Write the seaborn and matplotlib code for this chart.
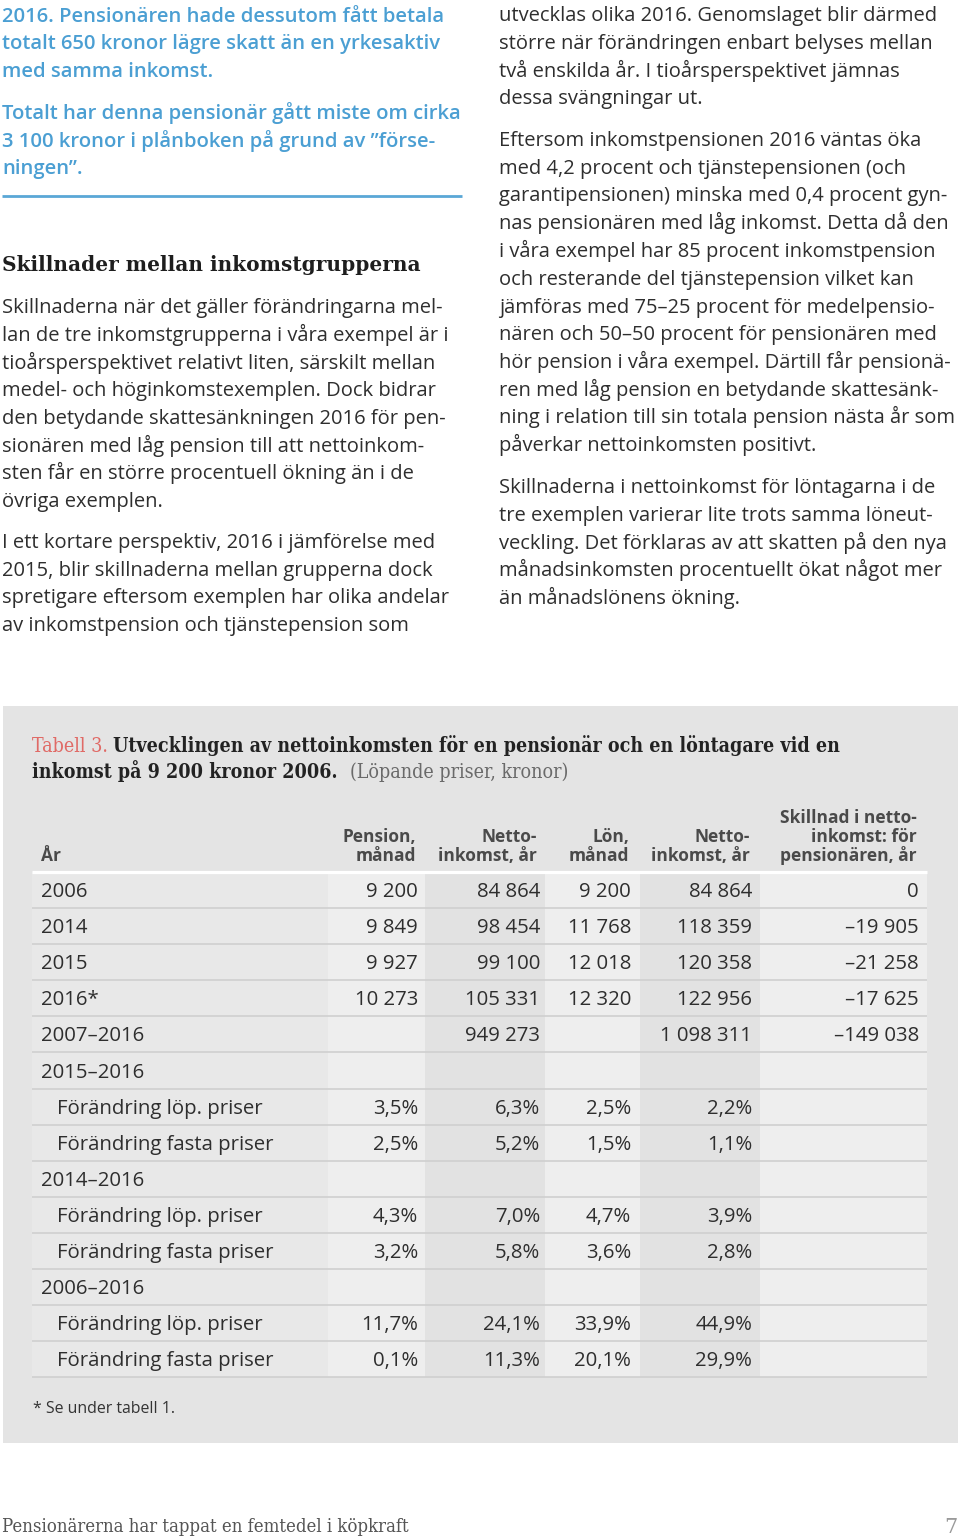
import numpy as np
import matplotlib
matplotlib.use("Agg")
import matplotlib.pyplot as plt
from matplotlib.colors import ListedColormap
from matplotlib.patches import Rectangle
import seaborn as sns

# ---------------- data ----------------
blue_lines = [
    "2016. Pensionären hade dessutom fått betala",
    "totalt 650 kronor lägre skatt än en yrkesaktiv",
    "med samma inkomst.",
    "Totalt har denna pensionär gått miste om cirka",
    "3 100 kronor i plånboken på grund av ”förse-",
    "ningen”.",
]
heading = "Skillnader mellan inkomstgrupperna"
left_par1 = [
    "Skillnaderna när det gäller förändringarna mel-",
    "lan de tre inkomstgrupperna i våra exempel är i",
    "tioårsperspektivet relativt liten, särskilt mellan",
    "medel- och höginkomstexemplen. Dock bidrar",
    "den betydande skattesänkningen 2016 för pen-",
    "sionären med låg pension till att nettoinkom-",
    "sten får en större procentuell ökning än i de",
    "övriga exemplen.",
]
left_par2 = [
    "I ett kortare perspektiv, 2016 i jämförelse med",
    "2015, blir skillnaderna mellan grupperna dock",
    "spretigare eftersom exemplen har olika andelar",
    "av inkomstpension och tjänstepension som",
]
right_par1 = [
    "utvecklas olika 2016. Genomslaget blir därmed",
    "större när förändringen enbart belyses mellan",
    "två enskilda år. I tioårsperspektivet jämnas",
    "dessa svängningar ut.",
]
right_par2 = [
    "Eftersom inkomstpensionen 2016 väntas öka",
    "med 4,2 procent och tjänstepensionen (och",
    "garantipensionen) minska med 0,4 procent gyn-",
    "nas pensionären med låg inkomst. Detta då den",
    "i våra exempel har 85 procent inkomstpension",
    "och resterande del tjänstepension vilket kan",
    "jämföras med 75–25 procent för medelpensio-",
    "nären och 50–50 procent för pensionären med",
    "hör pension i våra exempel. Därtill får pensionä-",
    "ren med låg pension en betydande skattesänk-",
    "ning i relation till sin totala pension nästa år som",
    "påverkar nettoinkomsten positivt.",
]
right_par3 = [
    "Skillnaderna i nettoinkomst för löntagarna i de",
    "tre exemplen varierar lite trots samma löneut-",
    "veckling. Det förklaras av att skatten på den nya",
    "månadsinkomsten procentuellt ökat något mer",
    "än månadslönens ökning.",
]

table_label = "Tabell 3."
table_title_1 = "Utvecklingen av nettoinkomsten för en pensionär och en löntagare vid en"
table_title_2 = "inkomst på 9 200 kronor 2006."
table_unit = "(Löpande priser, kronor)"

col_headers = [
    ["Pension,", "månad"],
    ["Netto-", "inkomst, år"],
    ["Lön,", "månad"],
    ["Netto-", "inkomst, år"],
    ["Skillnad i netto-", "inkomst: för", "pensionären, år"],
]
first_header = "År"

years = ["2006", "2014", "2015", "2016*", "2007–2016"]
pension_manad = [9200, 9849, 9927, 10273, None]
netto_pension = [84864, 98454, 99100, 105331, 949273]
lon_manad = [9200, 11768, 12018, 12320, None]
netto_lon = [84864, 118359, 120358, 122956, 1098311]
skillnad = [0, -19905, -21258, -17625, -149038]

periods = ["2015–2016", "2014–2016", "2006–2016"]
change_types = ["Förändring löp. priser", "Förändring fasta priser"]
pension_chg = [[3.5, 2.5], [4.3, 3.2], [11.7, 0.1]]
netto_pension_chg = [[6.3, 5.2], [7.0, 5.8], [24.1, 11.3]]
lon_chg = [[2.5, 1.5], [4.7, 3.6], [33.9, 20.1]]
netto_lon_chg = [[2.2, 1.1], [3.9, 2.8], [44.9, 29.9]]

footnote = "* Se under tabell 1."
footer = "Pensionärerna har tappat en femtedel i köpkraft"
page_no = "7"

# ---------------- helpers ----------------
def fmt_int(v):
    if v is None:
        return ""
    s = f"{abs(v):,}".replace(",", " ")
    return ("–" + s) if v < 0 else s

def fmt_pct(v):
    if v is None:
        return ""
    return f"{v:.1f}".replace(".", ",") + "%"

rows = []
for i, y in enumerate(years):
    rows.append((y, False, [fmt_int(pension_manad[i]), fmt_int(netto_pension[i]),
                            fmt_int(lon_manad[i]), fmt_int(netto_lon[i]), fmt_int(skillnad[i])]))
for p, per in enumerate(periods):
    rows.append((per, False, ["", "", "", "", ""]))
    for k, ct in enumerate(change_types):
        rows.append((ct, True, [fmt_pct(pension_chg[p][k]), fmt_pct(netto_pension_chg[p][k]),
                                fmt_pct(lon_chg[p][k]), fmt_pct(netto_lon_chg[p][k]), ""]))

# ---------------- figure ----------------
sns.set_theme(style="white")
plt.rcParams['font.family'] = ['Open Sans', 'DejaVu Sans']

W, H = 960, 1538
fig = plt.figure(figsize=(W / 100, H / 100), dpi=100)
fig.patch.set_facecolor("white")
renderer = fig.canvas.get_renderer()

def px_axes(x0, y0, x1, y1):
    return fig.add_axes([x0 / W, 1 - y1 / H, (x1 - x0) / W, (y1 - y0) / H])

bg = px_axes(0, 0, W, H)
bg.set_xlim(0, W); bg.set_ylim(H, 0); bg.axis("off")
bg.add_patch(Rectangle((3, 706), 955, 737, color="#e4e4e4", lw=0))

# table column shading with seaborn heatmap
TX0, TX1, TY0, TY1 = 32, 927, 872, 1377
band_px = [296, 97, 120, 95, 120, 167]
band_shade = [0, 1, 2, 1, 2, 1]
shade_arr = np.repeat(band_shade, band_px)[None, :]
hm = px_axes(TX0, TY0, TX1, TY1)
sns.heatmap(shade_arr, ax=hm, cmap=ListedColormap(["#e8e8e8", "#eeeeee", "#e2e2e2"]),
            vmin=0, vmax=2, cbar=False, xticklabels=False, yticklabels=False)
hm.axis("off")

ov = px_axes(0, 0, W, H)
ov.set_xlim(0, W); ov.set_ylim(H, 0); ov.axis("off")
ov.patch.set_alpha(0)

def width_px(s, size, **kw):
    t = ov.text(0, 0, s, fontsize=size, **kw)
    w = t.get_window_extent(renderer).width
    t.remove()
    return w

def fit(s, target, **kw):
    return 10 * target / width_px(s, 10, **kw)

def T(x, y, s, size, **kw):
    return ov.text(x, y, s, fontsize=size, va="baseline", **kw)

# ---- left column ----
BLUE = "#4b9fd3"
TXT = "#2e2e2e"
blue_kw = dict(family=["Open Sans", "DejaVu Sans"], weight="semibold")
bsize = min(fit(blue_lines[0], 445, **blue_kw), fit(blue_lines[3], 460, **blue_kw))
for y, s in zip([22, 49, 77, 119, 147, 174], blue_lines):
    T(2, y, s, bsize, color=BLUE, **blue_kw)
ov.plot([2, 462], [196, 196], color="#5aa7d6", lw=2.0, solid_capstyle="butt")

head_kw = dict(family=["DejaVu Serif"], weight="bold")
hsize = fit(heading, 420, **head_kw)
T(2, 271, heading, hsize, color="#1e1e1e", **head_kw)

body_kw = dict(family=["Open Sans", "DejaVu Sans"])
size_body = min(fit(left_par1[2], 444, **body_kw),
                fit(right_par2[10], 455, **body_kw),
                fit(right_par2[8], 453, **body_kw),
                fit(right_par2[3], 451, **body_kw))
LS = 27.75
for i, s in enumerate(left_par1):
    T(2, 313 + i * LS, s, size_body, color=TXT, **body_kw)
for i, s in enumerate(left_par2):
    T(2, 548 + i * LS, s, size_body, color=TXT, **body_kw)

# ---- right column ----
for i, s in enumerate(right_par1):
    T(499, 21 + i * LS, s, size_body, color=TXT, **body_kw)
for i, s in enumerate(right_par2):
    T(499, 146 + i * LS, s, size_body, color=TXT, **body_kw)
for i, s in enumerate(right_par3):
    T(499, 493 + i * LS, s, size_body, color=TXT, **body_kw)

# ---- table title ----
tt_kw = dict(family=["DejaVu Serif"], stretch="condensed")
w_lab = width_px(table_label + " ", 10, **tt_kw)
w_rest = width_px(table_title_1, 10, weight="bold", **tt_kw)
tsize = 10 * (841 - 32) / (w_lab + w_rest)
T(32, 752, table_label, tsize, color="#e06a66", **tt_kw)
x2 = 32 + w_lab * tsize / 10
T(x2, 752, table_title_1, tsize, color="#222222", weight="bold", **tt_kw)
T(32, 778, table_title_2, tsize, color="#222222", weight="bold", **tt_kw)
x3 = 32 + width_px(table_title_2 + "  ", tsize, weight="bold", **tt_kw)
T(x3, 778, table_unit, tsize, color="#6a6a6a", **tt_kw)

# ---- table header ----
hdr_kw = dict(family=["Open Sans", "DejaVu Sans"], weight="bold")
hdr_size = fit("pensionären, år", 137, **hdr_kw)
hdr_right = [416, 537, 629, 750, 917]
HCOL = "#4a4a4a"
for xr, lines in zip(hdr_right, col_headers):
    n = len(lines)
    for j, s in enumerate(lines):
        T(xr, 861 - (n - 1 - j) * 19, s, hdr_size, color=HCOL, ha="right", **hdr_kw)
T(41, 861, first_header, hdr_size, color=HCOL, **hdr_kw)

ov.plot([TX0, TX1], [872, 872], color="white", lw=2.3, solid_capstyle="butt")

# ---- table body ----
cell_kw = dict(family=["Open Sans", "DejaVu Sans"])
cell_size = fit("Förändring fasta priser", 217, **cell_kw)
val_right = [418, 540, 631, 752, 919]
RH = 36.1
for r, (lab, indent, cells) in enumerate(rows):
    yc = 890 + r * RH
    T(57 if indent else 41, yc + 7, lab, cell_size, color=TXT, **cell_kw)
    for xr, c in zip(val_right, cells):
        if c:
            T(xr, yc + 7, c, cell_size, color=TXT, ha="right", **cell_kw)
    ov.plot([TX0, TX1], [yc + 18, yc + 18], color="#cfcfcf", lw=1.2, solid_capstyle="butt")

# ---- footnote & footer ----
fn_size = fit(footnote, 142, **cell_kw)
T(33, 1413, footnote, fn_size, color="#333333", **cell_kw)

ft_kw = dict(family=["DejaVu Serif"], stretch="condensed")
ft_size = fit(footer, 408, **ft_kw)
T(2, 1532, footer, ft_size, color="#555555", **ft_kw)
T(958, 1533, page_no, 15, color="#9a9a9a", ha="right", family=["DejaVu Serif"], weight="light")

fig.savefig("out.png", dpi=100)
